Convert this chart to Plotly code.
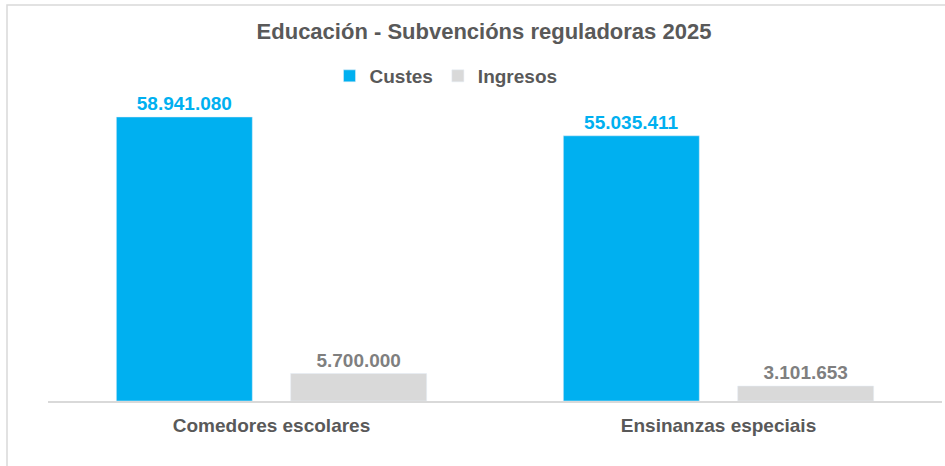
import plotly.graph_objects as go

categories = ["Comedores escolares", "Ensinanzas especiais"]
custes = [58941080, 55035411]
ingresos = [5700000, 3101653]
series_names = ["Custes", "Ingresos"]

W, H = 945, 466
ML, MR, MT, MB = 48, 3, 95, 65
TXT = "#595959"
FONT = "Liberation Sans"


def fmt(v):
    return f"{v:,}".replace(",", ".")


fig = go.Figure()
fig.add_trace(go.Bar(
    x=categories, y=custes, name="<b>" + series_names[0] + "</b>",
    marker=dict(color="#00B0F0"),
    text=[fmt(v) for v in custes], textposition="outside",
    texttemplate="<b>%{text}</b>",
    textfont=dict(color="#00B0F0", size=19, family=FONT),
    cliponaxis=False,
))
fig.add_trace(go.Bar(
    x=categories, y=ingresos, name="<b>" + series_names[1] + "</b>",
    marker=dict(color="#D9D9D9"),
    text=[fmt(v) for v in ingresos], textposition="outside",
    texttemplate="<b>%{text}</b>",
    textfont=dict(color="#7F7F7F", size=19, family=FONT),
    cliponaxis=False,
))

# chart area border (like the Excel frame)
pw, ph = W - ML - MR, H - MT - MB
fig.add_shape(type="rect", xref="paper", yref="paper",
              x0=(7 - ML) / pw, x1=(W + 5 - ML) / pw,
              y0=-(MB + 5) / ph, y1=(H - 5 - MB) / ph,
              line=dict(color="#D9D9D9", width=1.5), layer="below")

fig.update_layout(
    width=W, height=H,
    margin=dict(l=ML, r=MR, t=MT, b=MB, autoexpand=False),
    paper_bgcolor="white", plot_bgcolor="white",
    font=dict(family=FONT, color=TXT, size=19),
    title=dict(text="<b>Educación - Subvencións reguladoras 2025</b>",
               x=484 / W, xanchor="center", y=1 - 31 / H, yanchor="middle",
               font=dict(size=22, color=TXT, family=FONT)),
    legend=dict(orientation="h", x=(446 - ML) / pw, xanchor="center",
                y=1 + (MT - 76) / ph, yanchor="middle",
                font=dict(size=19, color=TXT, family=FONT),
                itemwidth=30, traceorder="normal"),
    barmode="group", bargap=0.22, bargroupgap=0.22,
    showlegend=True,
)
fig.update_xaxes(showline=True, linecolor="#D9D9D9", linewidth=1.5,
                 tickfont=dict(size=19, color=TXT, family=FONT),
                 ticklabelstandoff=6, ticks="", automargin=False,
                 tickprefix="<b>", ticksuffix="</b>")
fig.update_yaxes(visible=False, range=[0, 63.5e6], showgrid=False)

fig.write_html("out.html", config={"displayModeBar": False},
               post_script="document.body.style.margin='0';")
